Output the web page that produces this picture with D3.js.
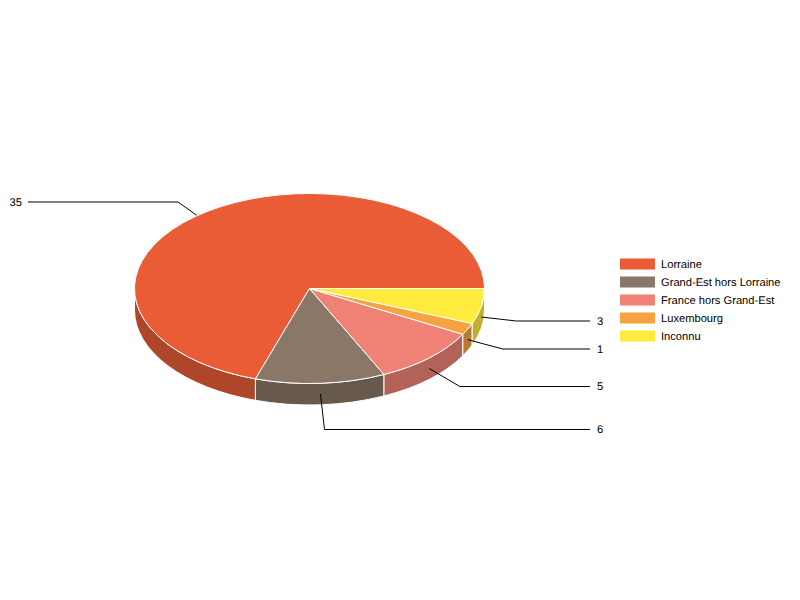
<!DOCTYPE html>
<html>
<head>
<meta charset="utf-8">
<script src="https://cdn.jsdelivr.net/npm/d3@7"></script>
<style>
    html, body { margin: 0; padding: 0; background: #fff; }
    svg { display: block; }
    text { font-family: "Liberation Sans", Arial, sans-serif; font-size: 11.15px; fill: #000; text-rendering: geometricPrecision; }
    .labels { opacity: 0.999; }
</style>
</head>
<body>
<svg id="chart"></svg>
<script>
const categories = [ 'Lorraine', 'Grand-Est hors Lorraine', 'France hors Grand-Est', 'Luxembourg', 'Inconnu' ];
const values = [ 35, 6, 5, 1, 3 ];
const colors = [ '#e95c36', '#8a7767', '#ef8274', '#f5a240', '#ffeb3d' ];

// where each callout bends: x offset from the slice, then y of the horizontal run
const elbow_dx = [ -28.6, 4, 30.6, 35, 35 ];
const elbow_y = [ 202, 429.5, 386.5, 349, 321 ];

const width = 800, height = 600;
const cx = 309.5, cy = 288.5, rx = 175, ry = 95, depth = 21.5;
const line_left = 28, line_right = 590;

const svg = d3.select( '#chart' )
    .attr( 'width', width )
    .attr( 'height', height );

const color = d3.scaleOrdinal().domain( categories ).range( colors );

const pie = d3.pie()
    .sort( null )
    .startAngle( Math.PI / 2 )
    .endAngle( Math.PI / 2 - 2 * Math.PI );

const slices = pie( values ).map( ( d, i ) => ( {
    ...d,
    name: categories[ i ],
    mid: ( d.startAngle + d.endAngle ) / 2,
    dx: elbow_dx[ i ],
    ly: elbow_y[ i ]
} ) );

const px = a => cx + rx * Math.sin( a );
const py = a => cy - ry * Math.cos( a );

// callouts start halfway down the rim; those on the back half run under the pie
function callout( g, data ) {
    g.selectAll( 'path' )
        .data( data )
        .enter()
        .append( 'path' )
        .attr( 'fill', 'none' )
        .attr( 'stroke', '#000' )
        .attr( 'stroke-width', 1 )
        .attr( 'd', d => {
            const left = px( d.mid ) < cx && d.dx < 0;
            return d3.line()( [
                [ px( d.mid ), py( d.mid ) + depth / 2 ],
                [ px( d.mid ) + d.dx, d.ly ],
                [ left ? line_left : line_right, d.ly ]
            ] );
        } );
}

svg.append( 'g' ).call( callout, slices.filter( d => Math.cos( d.mid ) > 0 ) );

// rim, front half only
const side = d => {
    const a0 = Math.min( d.startAngle, -Math.PI / 2 );
    const a1 = Math.max( d.endAngle, -3 * Math.PI / 2 );
    if ( a0 <= a1 ) return null;
    return `M${px( a0 )},${py( a0 )}`
        + `A${rx},${ry} 0 0 0 ${px( a1 )},${py( a1 )}`
        + `L${px( a1 )},${py( a1 ) + depth}`
        + `A${rx},${ry} 0 0 1 ${px( a0 )},${py( a0 ) + depth}Z`;
};

svg.append( 'g' ).selectAll( 'path' )
    .data( slices.filter( side ) )
    .enter()
    .append( 'path' )
    .attr( 'd', side )
    .attr( 'fill', d => {
        const c = d3.rgb( color( d.name ) );
        return d3.rgb( c.r * 0.75, c.g * 0.75, c.b * 0.75 );
    } )
    .attr( 'stroke', '#fff' )
    .attr( 'stroke-width', 1 );

const arc = d3.arc().innerRadius( 0 ).outerRadius( rx );

svg.append( 'g' )
    .attr( 'transform', `translate(${cx},${cy}) scale(1,${ry / rx})` )
    .selectAll( 'path' )
    .data( slices )
    .enter()
    .append( 'path' )
    .attr( 'd', arc )
    .attr( 'fill', d => color( d.name ) )
    .attr( 'stroke', '#fff' )
    .attr( 'stroke-width', 1 )
    .attr( 'vector-effect', 'non-scaling-stroke' );

svg.append( 'g' ).call( callout, slices.filter( d => Math.cos( d.mid ) <= 0 ) );

// value labels
svg.append( 'g' ).attr( 'class', 'labels' ).selectAll( 'text' )
    .data( slices )
    .enter()
    .append( 'text' )
    .attr( 'x', d => d.dx < 0 ? line_left - 6 : line_right + 7 )
    .attr( 'y', d => Math.floor( d.ly ) )
    .attr( 'dy', '0.35em' )
    .attr( 'text-anchor', d => d.dx < 0 ? 'end' : 'start' )
    .text( d => d.value );

// legend
const legend_y = d3.scalePoint().domain( categories ).range( [ 264, 336 ] );

const legend = svg.append( 'g' ).attr( 'class', 'labels' ).selectAll( 'g' )
    .data( categories )
    .enter()
    .append( 'g' )
    .attr( 'transform', d => `translate(620,${legend_y( d )})` );

legend.append( 'rect' )
    .attr( 'y', -5.5 )
    .attr( 'width', 35 )
    .attr( 'height', 11 )
    .attr( 'fill', d => color( d ) );

legend.append( 'text' )
    .attr( 'x', 41 )
    .attr( 'dy', '0.35em' )
    .text( d => d );
</script>
</body>
</html>
